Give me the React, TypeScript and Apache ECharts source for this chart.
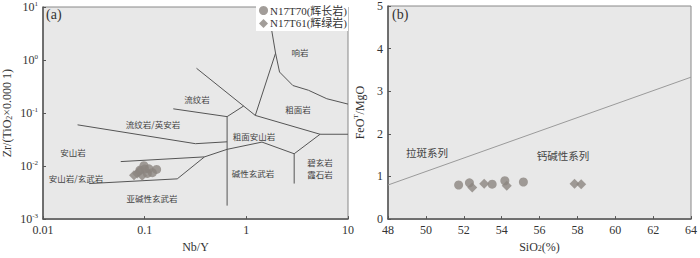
import React, { useEffect, useRef } from "react";
import * as echarts from "echarts";

// ---------- data ----------
const xTickLabelsA = ["0.01", "0.1", "1", "10"];
const yTickExpA = ["-3", "-2", "-1", "0", "1"];

const seriesNames = ["N17T70(辉长岩)", "N17T61(辉绿岩)"];

// Panel (a): Zr/TiO2 vs Nb/Y — sample points [Nb/Y, Zr/(TiO2*0.0001)]
const circlesA = [
  [0.0984, 0.01019], [0.1102, 0.00886], [0.1311, 0.00865], [0.119, 0.00752],
  [0.0899, 0.0084], [0.1063, 0.00728], [0.1, 0.00876],
];
const diamondsA = [
  [0.0785, 0.00671], [0.0844, 0.00728], [0.0945, 0.00657], [0.0884, 0.0079],
];

// Panel (a): classification boundaries
const bTop = [[1.625, 10], [1.938, 1.346], [2.121, 0.5934], [2.87, 0.3305], [4.082, 0.2693], [6.183, 0.1863], [10, 0.1475]];
const bTrachyte = [[1.938, 1.346], [1.225, 0.09027], [5.315, 0.03981], [10, 0.03981]];
const bRhyolite = [[0.3235, 0.699], [1.225, 0.09027]];
const bRhyoliteShort = [[0.9408, 0.1359], [0.647, 0.08558]];
const bDacite = [[0.1912, 0.1202], [0.647, 0.08558], [0.647, 0.001796]];
const bAndesite = [[0.02188, 0.05995], [0.3162, 0.02643], [0.647, 0.02869]];
const bAlkaliBasalt = [[0.02843, 0.004679], [0.2093, 0.005743], [0.3877, 0.01491], [0.647, 0.02068], [1.425, 0.02834], [2.955, 0.01706], [5.315, 0.03981]];
const bBasaltUpper = [[0.05817, 0.01215], [0.3877, 0.01491]];
const bNephelinite = [[2.955, 0.01706], [2.955, 0.004679]];
const boundariesA = [bTop, bTrachyte, bRhyolite, bRhyoliteShort, bDacite, bAndesite, bAlkaliBasalt, bBasaltUpper, bNephelinite];

// Panel (b): FeOT/MgO vs SiO2 — [SiO2, FeOT/MgO]
const circlesB = [[51.73, 0.8], [52.3, 0.85], [53.5, 0.82], [54.17, 0.9], [55.15, 0.87]];
const diamondsB = [[52.45, 0.74], [53.08, 0.83], [54.27, 0.78], [57.85, 0.83], [58.2, 0.82]];
const dividerB = [[48, 0.8], [64, 3.33]];

// ---------- styles ----------
const SERIF = "'Liberation Serif', 'Noto Sans CJK SC', serif";
const CJK = "'Noto Sans CJK SC', sans-serif";
const PT = "#8b847f";
const LINE = "#555";
const TXT = "#333";

const regionLabels: [string, number, number][] = [
  ["响岩", 300, 52],
  ["流纹岩", 197, 99],
  ["粗面岩", 298, 109],
  ["流纹岩/英安岩", 153, 124],
  ["粗面安山岩", 254, 136],
  ["安山岩", 73, 152],
  ["安山岩/玄武岩", 76, 178],
  ["碱性玄武岩", 253, 173],
  ["碧玄岩", 320, 162],
  ["霞石岩", 320, 174],
  ["亚碱性玄武岩", 152, 198],
];
const regionLabelsB: [string, number, number][] = [
  ["拉斑系列", 427, 152],
  ["钙碱性系列", 563, 155],
];

export default function App() {
  const ref = useRef<HTMLDivElement>(null);
  useEffect(() => {
    document.body.style.margin = "0";
    const chart = echarts.init(ref.current!, null, { renderer: "svg" });
    const axisCommon = {
      axisLine: { show: true, lineStyle: { color: LINE, width: 1.5 } },
      axisTick: { show: true, inside: true, length: 3, lineStyle: { color: LINE } },
      splitLine: { show: false },
      nameTextStyle: { fontFamily: SERIF, fontSize: 12, color: TXT },
    };
    const supRich = {
      s: { fontSize: 7, fontFamily: SERIF, color: TXT, verticalAlign: "top" },
    };
    const option: any = {
      animation: false,
      legend: {
        orient: "vertical",
        right: 352,
        top: 3,
        backgroundColor: "#fff",
        padding: [2, 1, 2, 3],
        itemWidth: 9,
        itemHeight: 9,
        itemGap: 2,
        textStyle: { fontFamily: SERIF, fontSize: 11, color: TXT, padding: [0, 0, 0, -3] },
        data: [
          { name: seriesNames[0], icon: "circle" },
          { name: seriesNames[1], icon: "diamond" },
        ],
      },
      grid: [
        { left: 42, top: 1, width: 306, height: 225, show: true, backgroundColor: "#e8e8e8", borderColor: "#888", borderWidth: 1 },
        { left: 388, top: 1, width: 309, height: 225, show: true, backgroundColor: "#e8e8e8", borderColor: "#888", borderWidth: 1 },
      ],
      xAxis: [
        {
          ...axisCommon,
          gridIndex: 0,
          type: "log",
          logBase: 10,
          min: 0.01,
          max: 10,
          name: "Nb/Y",
          nameLocation: "middle",
          nameGap: 14,
          axisLabel: {
            fontFamily: SERIF, fontSize: 12, color: TXT, margin: 5,
            formatter: (v: number) => xTickLabelsA[Math.round(Math.log10(v)) + 2],
          },
        },
        {
          ...axisCommon,
          gridIndex: 1,
          type: "value",
          min: 48,
          max: 64,
          interval: 2,
          name: "SiO{sub|2}(%)",
          nameLocation: "middle",
          nameGap: 17,
          nameTextStyle: {
            fontFamily: SERIF, fontSize: 12, color: TXT,
            rich: { sub: { fontSize: 8, fontFamily: SERIF, color: TXT, verticalAlign: "bottom" } },
          },
          axisLabel: { fontFamily: SERIF, fontSize: 12, color: TXT, margin: 5 },
        },
      ],
      yAxis: [
        {
          ...axisCommon,
          gridIndex: 0,
          type: "log",
          logBase: 10,
          min: 0.001,
          max: 10,
          name: "Zr/(TiO{sub|2}×0.000 1)",
          nameLocation: "middle",
          nameGap: 30,
          nameTextStyle: {
            fontFamily: SERIF, fontSize: 12, color: TXT,
            rich: { sub: { fontSize: 8, fontFamily: SERIF, color: TXT, verticalAlign: "bottom" } },
          },
          axisLabel: {
            fontFamily: SERIF, fontSize: 12, color: TXT, margin: 5, lineHeight: 14,
            formatter: (v: number) => `10{s|${yTickExpA[Math.round(Math.log10(v)) + 3]}}`,
            rich: supRich,
          },
        },
        {
          ...axisCommon,
          gridIndex: 1,
          type: "value",
          min: 0,
          max: 5,
          interval: 1,
          name: "FeO{s|T}/MgO",
          nameLocation: "middle",
          nameGap: 20,
          nameTextStyle: {
            fontFamily: SERIF, fontSize: 12, color: TXT, lineHeight: 16,
            rich: supRich,
          },
          axisLabel: { fontFamily: SERIF, fontSize: 12, color: TXT, margin: 5 },
        },
      ],
      series: [
        ...boundariesA.map((d) => ({
          type: "line",
          xAxisIndex: 0,
          yAxisIndex: 0,
          data: d,
          showSymbol: false,
          symbol: "none",
          silent: true,
          lineStyle: { color: LINE, width: 1 },
          z: 2,
        })),
        {
          type: "line",
          xAxisIndex: 1,
          yAxisIndex: 1,
          data: dividerB,
          symbol: "none",
          silent: true,
          lineStyle: { color: "#9a9a9a", width: 1 },
          z: 2,
        },
        {
          name: seriesNames[0], type: "scatter", xAxisIndex: 0, yAxisIndex: 0,
          data: circlesA, symbol: "circle", symbolSize: 9, itemStyle: { color: PT }, z: 3,
        },
        {
          name: seriesNames[1], type: "scatter", xAxisIndex: 0, yAxisIndex: 0,
          data: diamondsA, symbol: "diamond", symbolSize: 10, itemStyle: { color: PT }, z: 3,
        },
        {
          name: seriesNames[0], type: "scatter", xAxisIndex: 1, yAxisIndex: 1,
          data: circlesB, symbol: "circle", symbolSize: 9, itemStyle: { color: PT }, z: 3,
        },
        {
          name: seriesNames[1], type: "scatter", xAxisIndex: 1, yAxisIndex: 1,
          data: diamondsB, symbol: "diamond", symbolSize: 10, itemStyle: { color: PT }, z: 3,
        },
      ],
      graphic: [
        { type: "text", x: 46, y: 14, z: 10, style: { text: "(a)", fontFamily: SERIF, fontSize: 14, fill: TXT, align: "left", verticalAlign: "middle" } },
        { type: "text", x: 392, y: 14, z: 10, style: { text: "(b)", fontFamily: SERIF, fontSize: 14, fill: TXT, align: "left", verticalAlign: "middle" } },
        ...regionLabels.map(([t, x, y]) => ({
          type: "text", x, y, z: 5, silent: true,
          style: { text: t, fontFamily: CJK, fontSize: 8.5, fill: "#444", align: "center", verticalAlign: "middle" },
        })),
        ...regionLabelsB.map(([t, x, y]) => ({
          type: "text", x, y, z: 5, silent: true,
          style: { text: t, fontFamily: CJK, fontSize: 10.5, fill: "#444", align: "center", verticalAlign: "middle" },
        })),
      ],
    };
    chart.setOption(option);
    return () => chart.dispose();
  }, []);
  return <div ref={ref} style={{ width: 700, height: 258 }} />;
}
